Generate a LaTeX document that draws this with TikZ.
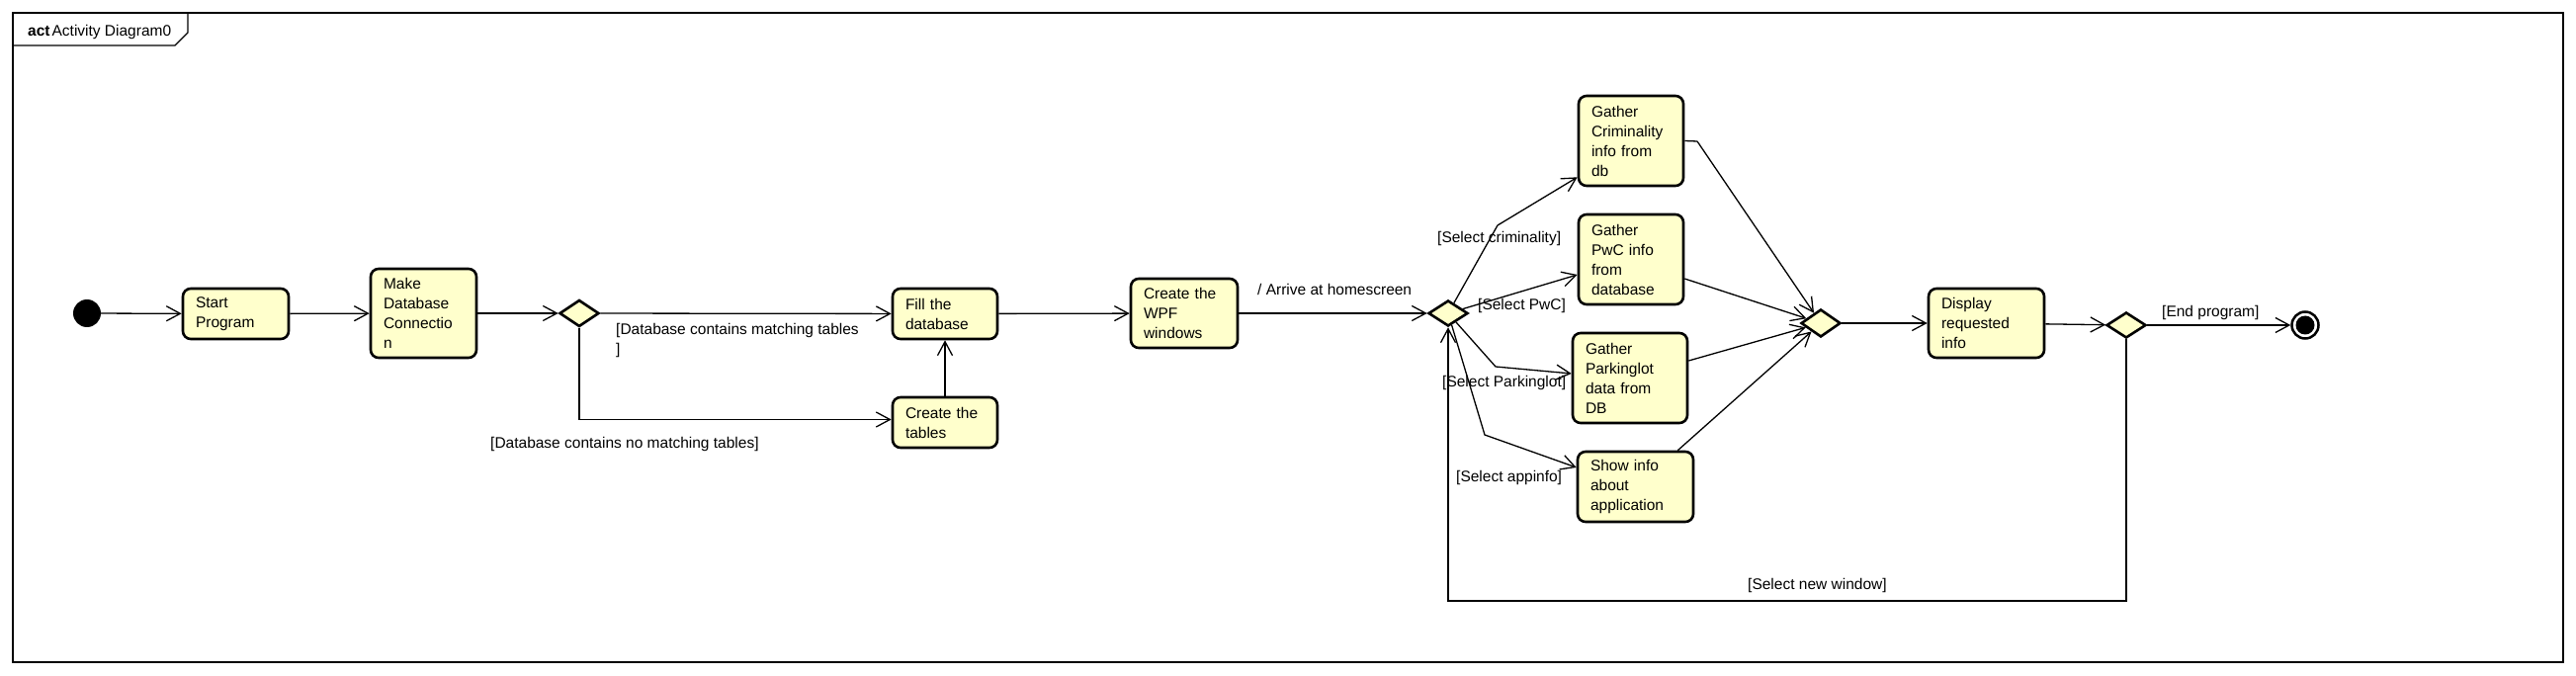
\documentclass[tikz,border=0pt]{standalone}
\usepackage{fontspec}
\setmainfont{Liberation Sans}
\usetikzlibrary{arrows.meta,shapes.geometric}
\definecolor{actfill}{RGB}{255,255,204}
\begin{document}
\begin{tikzpicture}[x=1pt,y=-1pt,
  every node/.style={font=\fontsize{15.5}{20}\selectfont},
  actbox/.style={draw, line width=2.6pt, rounded corners=8pt, fill=actfill, align=left, inner xsep=13pt, inner ysep=0pt},
  decis/.style={draw, diamond, line width=2.6pt, fill=actfill, inner sep=0pt, minimum width=40pt, minimum height=27pt},
  flow/.style={line width=1.3pt, -{Straight Barb[length=14pt,width=15pt,line width=1.3pt]}},
  plain/.style={line width=1.3pt},
  guard/.style={anchor=base west, inner sep=0pt},
]
\useasboundingbox (0,0) rectangle (2606,684);
% frame
\draw[line width=1.6pt] (13,13) rectangle (2593,670);
\draw[line width=1.2pt] (13,46) -- (177,46) -- (190,33) -- (190,13);
\node[guard] (title) at (28,37) {\textbf{act}\hspace{2pt}Activity Diagram0};

% initial / final
\node[circle, fill=black, minimum size=28pt, inner sep=0pt] (init) at (88,317) {};
\node[circle, draw, line width=2.5pt, minimum size=27pt, inner sep=0pt] (final) at (2332,329) {};
\fill (final.center) circle (9.5pt);

% actions
\node[actbox, text width=81pt, minimum height=51pt] (start) at (238.5,317.5) {Start\\Program};
\node[actbox, text width=81pt, minimum height=90pt] (make) at (428.5,317) {Make\\Database\\Connectio\\n};
\node[actbox, text width=80pt, minimum height=51pt] (fill) at (956,317.5) {Fill the\\database};
\node[actbox, text width=80pt, minimum height=51pt] (create) at (956,427.5) {Create the\\tables};
\node[actbox, text width=82pt, minimum height=70pt] (wpf) at (1198,317) {Create the\\WPF\\windows};
\node[actbox, text width=80pt, minimum height=91pt] (crim) at (1650,142.5) {Gather\\Criminality\\info from\\db};
\node[actbox, text width=80pt, minimum height=91pt] (pwc) at (1650,262.5) {Gather\\PwC info\\from\\database};
\node[actbox, text width=90pt, minimum height=91pt] (park) at (1649,382.5) {Gather\\Parkinglot\\data from\\DB};
\node[actbox, text width=91pt, minimum height=71pt] (show) at (1654.5,492.5) {Show info\\about\\application};
\node[actbox, text width=91pt, minimum height=70pt] (disp) at (2009.5,327) {Display\\requested\\info};

% decisions
\node[decis] (d1) at (586,317) {};
\node[decis, minimum height=26pt] (d2) at (1465,317) {};
\node[decis, minimum height=28pt] (merge) at (1842,327) {};
\node[decis, minimum height=26pt] (d3) at (2151,329) {};

% bend coordinates
\coordinate (b1) at (1515,228);
\coordinate (b3) at (1513,371);
\coordinate (b4) at (1502,440);
\coordinate (c1) at (1717,143);
\coordinate (lb) at (1465,608);

% connectors
\draw[flow] (init) -- (start);
\draw[flow] (start) -- (make);
\draw[flow] (make) -- (d1);
\draw[flow] (d1) -- (fill);
\draw[flow] (d1.south) |- ([yshift=3pt]create.west);
\draw[flow] (create) -- (fill);
\draw[flow] (fill) -- (wpf);
\draw[flow] (wpf) -- (d2);
\draw[flow] (d2) -- (b1) -- ([yshift=10pt]crim.south west);
\draw[flow] (d2) -- ([yshift=-15.5pt]pwc.west);
\draw[flow] (d2) -- (b3) -- ([yshift=4.5pt]park.west);
\draw[flow] (d2) -- (b4) -- ([yshift=19.5pt]show.west);
\draw[plain] (crim.east) -- (c1);
\draw[flow] (c1) -- (merge);
\draw[flow] ([yshift=-19.5pt]pwc.east) -- (merge);
\draw[flow] ([yshift=17.5pt]park.east) -- (merge);
\draw[flow] ([xshift=-17pt]show.north east) -- (merge);
\draw[flow] (merge) -- (disp);
\draw[flow] (disp) -- (d3);
\draw[flow] (d3) -- (final);
\draw[flow] (d3.south) |- (lb) -- (d2.south);

% guards
\node[guard] (g1a) at (623,338) {[Database contains matching tables};
\node[guard] (g1b) at (623,358) {]};
\node[guard] (g2) at (496,453) {[Database contains no matching tables]};
\node[guard] (g3) at (1272,299) {/ Arrive at homescreen};
\node[guard] (g4) at (1454,246) {[Select criminality]};
\node[guard] (g5) at (1495,314) {[Select PwC]};
\node[guard] (g6) at (1459,391) {[Select Parkinglot]};
\node[guard] (g7) at (1473,487) {[Select appinfo]};
\node[guard] (g8) at (2187,320) {[End program]};
\node[guard] (g9) at (1768,596) {[Select new window]};
\end{tikzpicture}
\end{document}
